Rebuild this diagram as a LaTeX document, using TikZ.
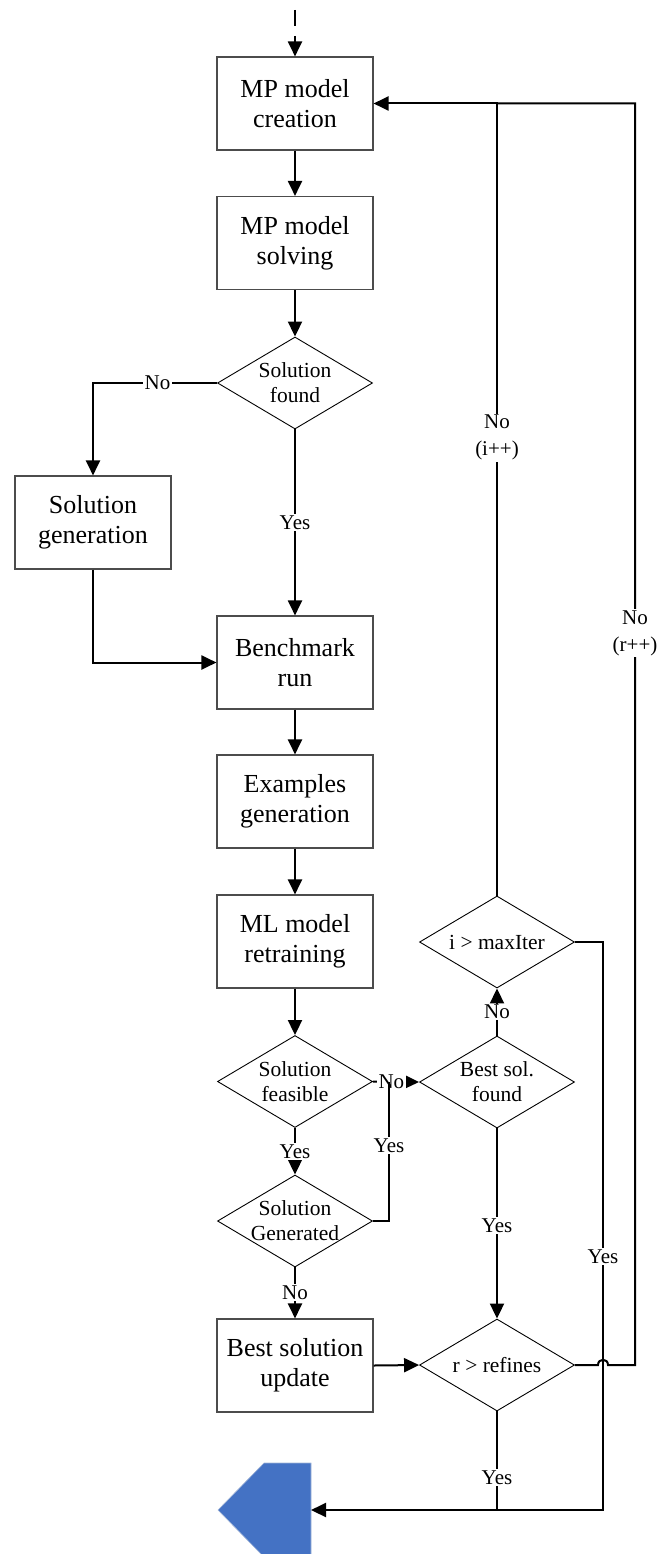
\documentclass[tikz,border=0pt]{standalone}
\usepackage{fontspec}
\setmainfont{Liberation Serif}
\usetikzlibrary{shapes.geometric,arrows.meta}

\begin{document}
\begin{tikzpicture}[x=1pt,y=-1pt,
  proc/.style={rectangle, draw=black!70, line width=1.1pt, minimum width=156pt,
    minimum height=93pt, inner sep=2pt, align=center,
    font=\fontsize{26}{30}\selectfont},
  dec/.style={diamond, draw=black, line width=0.9pt, minimum width=155pt,
    minimum height=92pt, inner sep=-10pt, shape aspect=1.685, align=center,
    font=\fontsize{21.5}{25}\selectfont},
  link/.style={line width=2pt},
  flow/.style={link, -{Triangle[length=15pt,width=14pt]}},
  lbl/.style={fill=white, inner sep=1.5pt, align=center,
    font=\fontsize{21}{27}\selectfont}]

\useasboundingbox (0,0) rectangle (660,1554);
\clip (0,0) rectangle (660,1554);

% process boxes
\node[proc] (create)  at (295,103.5)  {MP model\\creation};
\node[proc] (solve)   at (295,243)    {MP model\\solving};
\node[proc] (gen)     at (93,522.5)   {Solution\\generation};
\node[proc] (bench)   at (295,662.5)  {Benchmark\\run};
\node[proc] (examples)at (295,801.5)  {Examples\\generation};
\node[proc] (retrain) at (295,941.5)  {ML model\\retraining};
\node[proc] (update)  at (295,1365.5) {Best solution\\update};

% decisions
\node[dec] (found)    at (295,383)    {Solution\\found};
\node[dec] (feasible) at (295,1081.5) {Solution\\feasible};
\node[dec] (generated)at (295,1221)   {Solution\\Generated};
\node[dec] (maxiter)  at (497,942)    {i > maxIter};
\node[dec] (bestsol)  at (497,1082)   {Best sol.\\found};
\node[dec] (refines)  at (497,1365)   {r > refines};

% off-page connector
\fill[fill={rgb,255:red,68;green,114;blue,196}, draw={rgb,255:red,160;green,180;blue,215}, line width=0.6pt]
  (311,1463) -- (264,1463) -- (218,1510) -- (264,1557) -- (311,1557) -- cycle;
\coordinate (exit)  at (311,1510);
\coordinate (start) at (295,10);
\coordinate (merge) at (389,1082);
\coordinate (yesx)  at (603,1510);
\coordinate (hop)   at (603,1365);
\coordinate (rx)    at (635,1365);

% main flow
\draw[flow, dash pattern=on 16pt off 10pt] (start) -- (create.north);
\draw[flow] (create) -- (solve);
\draw[flow] (solve) -- (found);
\draw[flow] (found.west) -| (gen.north) node[lbl, pos=0.24] {No};
\draw[flow] (found.south) -- (bench.north) node[lbl, pos=0.5] {Yes};
\draw[flow] (gen.south) |- (bench.west);
\draw[flow] (bench) -- (examples);
\draw[flow] (examples) -- (retrain);
\draw[flow] (retrain) -- (feasible);
\draw[flow] (feasible.south) -- (generated.north) node[lbl, pos=0.5] {Yes};
\draw[flow] (feasible.east) -- (bestsol.west) node[lbl, pos=0.4] {No};
\draw[link] (generated.east) -| (merge) node[lbl, pos=0.77] {Yes};
\draw[flow] (generated.south) -- (update.north) node[lbl, pos=0.5] {No};
\draw[flow] (update.east) -- (refines.west);
\draw[flow] (bestsol.north) -- (maxiter.south) node[lbl, pos=0.5] {No};
\draw[flow] (bestsol.south) -- (refines.north) node[lbl, pos=0.51] {Yes};

% loops back to the model creation
\draw[flow] (maxiter.north) |- (create.east) node[lbl, pos=0.289] {No\\(i++)};
\draw[link] (refines.east) -- ([xshift=-5pt]hop)
  .. controls ([xshift=-5pt,yshift=7pt]hop) and ([xshift=5pt,yshift=7pt]hop) .. ([xshift=5pt]hop)
  -- (rx) -- (rx |- create.east) node[lbl, pos=0.58] {No\\(r++)} -- (maxiter.north |- create.east);

% exits
\draw[flow] (maxiter.east) -| (yesx) node[lbl, pos=0.777] {Yes} -- (exit);
\draw[link] (refines.south) -- (refines.south |- exit) node[lbl, pos=0.67] {Yes};

\end{tikzpicture}
\end{document}
